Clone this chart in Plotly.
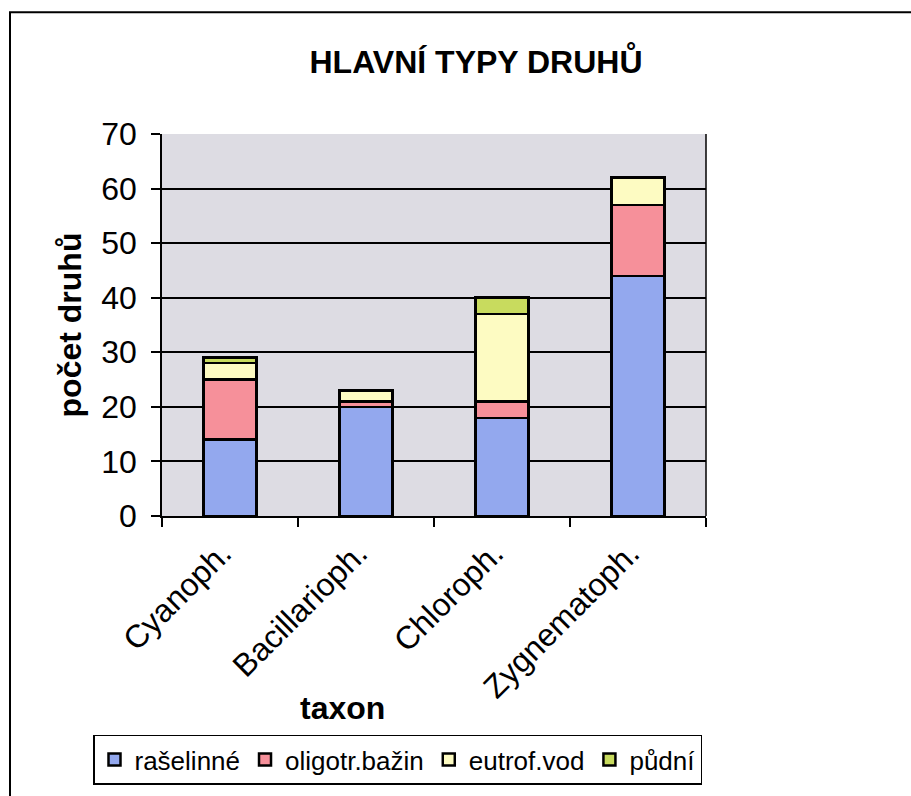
import plotly.graph_objects as go

categories = ["Cyanoph.", "Bacillarioph.", "Chloroph.", "Zygnematoph."]
series_names = ["rašelinné", "oligotr.bažin", "eutrof.vod", "půdní"]
rasel = [14, 20, 18, 44]
oligo = [11, 1, 3, 13]
eutrof = [3, 2, 16, 5]
pudni = [1, 0, 3, 0]
colors = ["#93a8ee", "#f6909a", "#fdfbc2", "#c8db5e"]
y_ticks = [0, 10, 20, 30, 40, 50, 60, 70]

FONT = "Liberation Sans, Arial, sans-serif"
W, H = 911, 796
L, R, T, B = 162, 706, 134, 520

def px_x(p):
    return (p - L) / (R - L)

def px_y(p):
    return (B - p) / (B - T)

fig = go.Figure()
for name, vals, col in zip(series_names, [rasel, oligo, eutrof, pudni], colors):
    fig.add_trace(go.Bar(
        x=categories, y=vals, name=name,
        marker=dict(color=col, line=dict(color="black", width=2.5)),
    ))

fig.update_layout(
    width=W, height=H,
    margin=dict(l=L, r=W - R, t=T, b=H - B),
    barmode="stack",
    bargap=0.61,
    paper_bgcolor="white",
    plot_bgcolor="#dddce3",
    font=dict(family=FONT, color="black"),
    title=dict(text="<b>HLAVNÍ TYPY DRUHŮ</b>", x=px_x(476), xanchor="center",
               y=1 - 62 / H, yanchor="middle", xref="paper",
               font=dict(size=32, family=FONT, color="black")),
    showlegend=True,
    legend=dict(orientation="h", x=px_x(93), xanchor="left",
                y=px_y(741), yanchor="top",
                bordercolor="black", borderwidth=1.5, bgcolor="white",
                font=dict(size=26, family=FONT, color="black"),
                itemwidth=30, tracegroupgap=0, traceorder="normal"),
    xaxis=dict(
        showgrid=False, ticks="outside", tickson="boundaries", ticklen=9,
        tickwidth=1.5, tickcolor="black", showline=True, linecolor="black",
        linewidth=1.5, tickangle=-45, tickfont=dict(size=32, family=FONT),
        ticklabelshift=-8, ticklabelstandoff=4,
        mirror=False, automargin=False,
    ),
    yaxis=dict(
        range=[0, 70], tickvals=y_ticks, ticktext=[str(v) for v in y_ticks],
        showgrid=True, gridcolor="black", gridwidth=1.5,
        ticks="outside", ticklen=9, tickwidth=1.5, tickcolor="black",
        showline=True, linecolor="black", linewidth=1.5,
        tickfont=dict(size=32, family=FONT), ticklabelstandoff=8,
        title=dict(text="<b>počet druhů</b>", font=dict(size=32, family=FONT), standoff=10),
        zeroline=False, automargin=False,
    ),
)

fig.add_shape(type="line", xref="paper", yref="paper", x0=1, x1=1, y0=0, y1=1,
              line=dict(color="black", width=1.5))

# outer chart border (extends past the right and bottom edges)
fig.add_shape(type="rect", xref="paper", yref="paper",
              x0=px_x(10), x1=px_x(940), y0=px_y(830), y1=px_y(11),
              line=dict(color="black", width=2), layer="below")

fig.add_annotation(text="<b>taxon</b>", xref="paper", yref="paper",
                   x=px_x(342), y=px_y(714), xanchor="center", yanchor="middle",
                   showarrow=False, font=dict(size=32, family=FONT, color="black"))

fig.write_html("out.html")
